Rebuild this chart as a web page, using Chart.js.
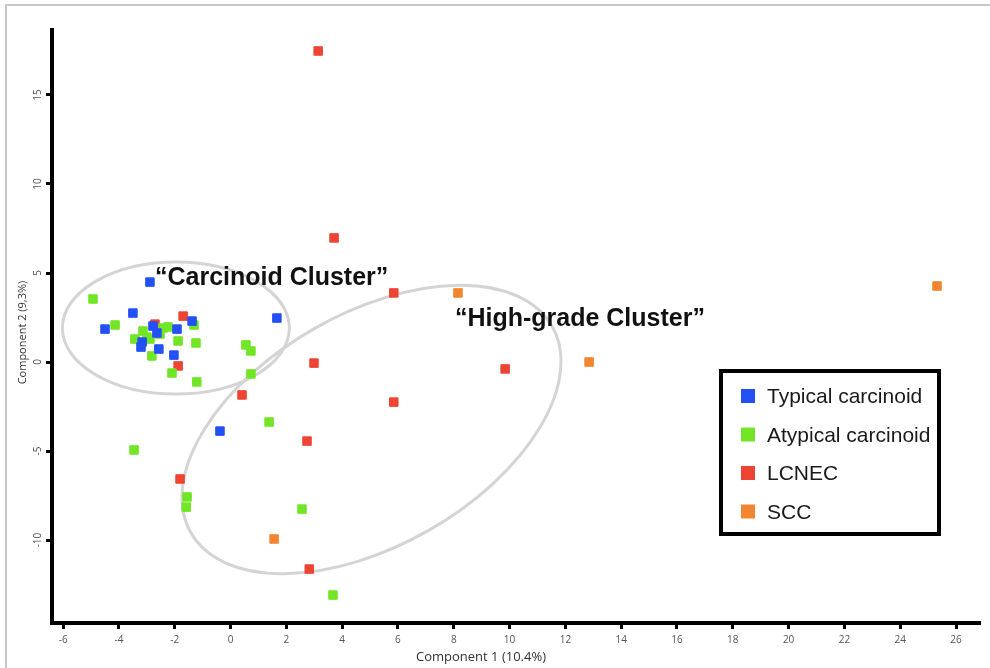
<!DOCTYPE html>
<html>
<head>
<meta charset="utf-8">
<script src="https://cdn.jsdelivr.net/npm/chart.js@4.4.1/dist/chart.umd.min.js"></script>
<style>
  html, body { margin: 0; padding: 0; background: #fff; }
  #wrap { position: relative; width: 990px; height: 668px; }
</style>
</head>
<body>
<div id="wrap"><canvas id="pca"></canvas></div>
<script>
// PCA scores, component 1 vs component 2

const typicalX = [-2.89, -3.50, -4.50, -2.78, -2.64, -3.17, -3.21, -2.57, -2.03, -1.92, -1.38, 1.66, -0.38];
const typicalY = [4.49, 2.75, 1.85, 2.02, 1.63, 1.12, 0.84, 0.73, 0.39, 1.85, 2.30, 2.47, -3.88];

const atypicalX = [-4.93, -4.14, -1.31, -3.43, -3.14, -3.00, -2.89, -2.42, -2.24, -2.53, -1.88, -1.24,
                   -2.82, -2.10, -1.21, 0.55, 0.73, 0.73, 1.38, -3.46, -1.56, -1.59, 2.56, 3.67];
const atypicalY = [3.54, 2.08, 2.08, 1.29, 1.74, 1.40, 1.29, 1.91, 1.97, 1.57, 1.18, 1.07,
                   0.34, -0.62, -1.12, 0.96, 0.62, -0.67, -3.37, -4.94, -7.58, -8.15, -8.26, -13.09];

const lcnecX = [3.14, 3.71, 5.85, 2.99, 9.84, 5.85, 0.41, 2.74, -1.81, 2.82, -1.70, -2.71, -1.88];
const lcnecY = [17.47, 6.97, 3.88, -0.06, -0.39, -2.25, -1.85, -4.44, -6.57, -11.63, 2.58, 2.13, -0.22];

const sccX = [8.15, 25.32, 12.85, 1.56];
const sccY = [3.88, 4.27, 0.00, -9.94];

const groupNames = ["Typical carcinoid", "Atypical carcinoid", "LCNEC", "SCC"];
const groupColors = ["#2350f5", "#72e626", "#ee4433", "#f2852f"];

const xTicks = [-6, -4, -2, 0, 2, 4, 6, 8, 10, 12, 14, 16, 18, 20, 22, 24, 26];
const yTicks = [-10, -5, 0, 5, 10, 15];

// cluster outlines: centre in data units, semi-axes in px, rotation in degrees
const clusterShapes = [
    { cx: -1.96, cy: 1.91, rx: 113.5, ry: 66, angle: 0 },
    { cx: 5.05, cy: -3.79, rx: 208, ry: 116, angle: -29.8 }
];
const clusterLabels = [
    { text: "\u201cCarcinoid Cluster\u201d", x: -2.71, y: 4.33 },
    { text: "\u201cHigh-grade Cluster\u201d", x: 8.04, y: 2.02 }
];

const zip = (xs, ys) => xs.map((x, i) => ({ x: x, y: ys[i] }));
const series = [zip(typicalX, typicalY), zip(atypicalX, atypicalY), zip(lcnecX, lcnecY), zip(sccX, sccY)];

const clusterPlugin = {
    id: "clusters",
    beforeDraw(chart) {
        const ctx = chart.ctx;
        ctx.save();
        ctx.strokeStyle = "#c9c9c9";
        ctx.lineWidth = 2;
        ctx.beginPath();
        ctx.moveTo(6, 668);
        ctx.lineTo(6, 5);
        ctx.lineTo(990, 5);
        ctx.stroke();
        ctx.restore();
    },
    beforeDatasetsDraw(chart) {
        const { ctx, scales: { x, y } } = chart;
        ctx.save();
        ctx.strokeStyle = "#d4d4d4";
        ctx.lineWidth = 3;
        clusterShapes.forEach(s => {
            ctx.beginPath();
            ctx.ellipse(x.getPixelForValue(s.cx), y.getPixelForValue(s.cy), s.rx, s.ry,
                s.angle * Math.PI / 180, 0, Math.PI * 2);
            ctx.stroke();
        });
        ctx.restore();
    },
    afterDatasetsDraw(chart) {
        const { ctx, scales: { x, y } } = chart;
        ctx.save();
        ctx.fillStyle = "#111";
        ctx.font = "bold 25px 'Liberation Sans', Arial, sans-serif";
        ctx.textBaseline = "alphabetic";
        ctx.textAlign = "left";
        clusterLabels.forEach(l => {
            ctx.fillText(l.text, x.getPixelForValue(l.x), y.getPixelForValue(l.y));
        });
        ctx.restore();
    }
};

// boxed legend and axis titles
const legendBoxPlugin = {
    id: "legendBox",
    afterDraw(chart) {
        const ctx = chart.ctx;
        const area = chart.chartArea;
        ctx.save();
        ctx.strokeStyle = "#000";
        ctx.lineWidth = 4;
        ctx.strokeRect(721, 371, 218, 163);
        ctx.font = "21px 'Liberation Sans', Arial, sans-serif";
        ctx.textBaseline = "alphabetic";
        ctx.textAlign = "left";
        groupNames.forEach((name, i) => {
            const cy = 396 + i * 38.5;
            ctx.fillStyle = groupColors[i];
            ctx.fillRect(741, cy - 7, 14, 14);
            ctx.fillStyle = "#1a1a1a";
            ctx.fillText(name, 767, cy + 7);
        });

        ctx.fillStyle = "#333";
        ctx.textAlign = "center";
        ctx.font = "13px 'Open Sans', sans-serif";
        ctx.fillText("Component 1 (10.4%)", 481, 661);
        ctx.translate(26, (area.top + area.bottom) / 2 + 6);
        ctx.rotate(-Math.PI / 2);
        ctx.font = "11px 'Open Sans', sans-serif";
        ctx.fillText("Component 2 (9,3%)", 0, 0);
        ctx.restore();
    }
};

const axisStyle = {
    border: { display: true, color: "#000", width: 4 },
    grid: { display: true, drawOnChartArea: false, drawTicks: true, tickLength: 6, tickWidth: 3, tickColor: "#000" }
};

new Chart(document.getElementById("pca"), {
    type: "scatter",
    data: {
        datasets: groupNames.map((name, i) => ({
            label: name,
            data: series[i],
            pointStyle: "rect",
            pointRadius: 6,
            pointHoverRadius: 6,
            backgroundColor: groupColors[i],
            borderColor: groupColors[i],
            borderWidth: 1
        }))
    },
    options: {
        responsive: true,
        maintainAspectRatio: false,
        animation: false,
        devicePixelRatio: 1,
        layout: { padding: { left: 0, top: 30, right: 10, bottom: 0 } },
        plugins: {
            legend: { display: false },
            tooltip: { enabled: false }
        },
        scales: {
            x: {
                type: "linear",
                min: -6.4,
                max: 26.86,
                ...axisStyle,
                afterBuildTicks: s => { s.ticks = xTicks.map(v => ({ value: v })); },
                afterFit: s => { s.height = 45; },
                ticks: { color: "#555", font: { family: "'Open Sans', sans-serif", size: 10 }, padding: 5, maxRotation: 0 }
            },
            y: {
                type: "linear",
                min: -14.66,
                max: 18.65,
                ...axisStyle,
                afterBuildTicks: s => { s.ticks = yTicks.map(v => ({ value: v })); },
                afterFit: s => { s.width = 52; },
                ticks: {
                    color: "#555",
                    font: { family: "'Open Sans', sans-serif", size: 10 },
                    padding: 1,
                    minRotation: 90,
                    maxRotation: 90,
                    crossAlign: "center"
                }
            }
        }
    },
    plugins: [clusterPlugin, legendBoxPlugin]
});
</script>
</body>
</html>
